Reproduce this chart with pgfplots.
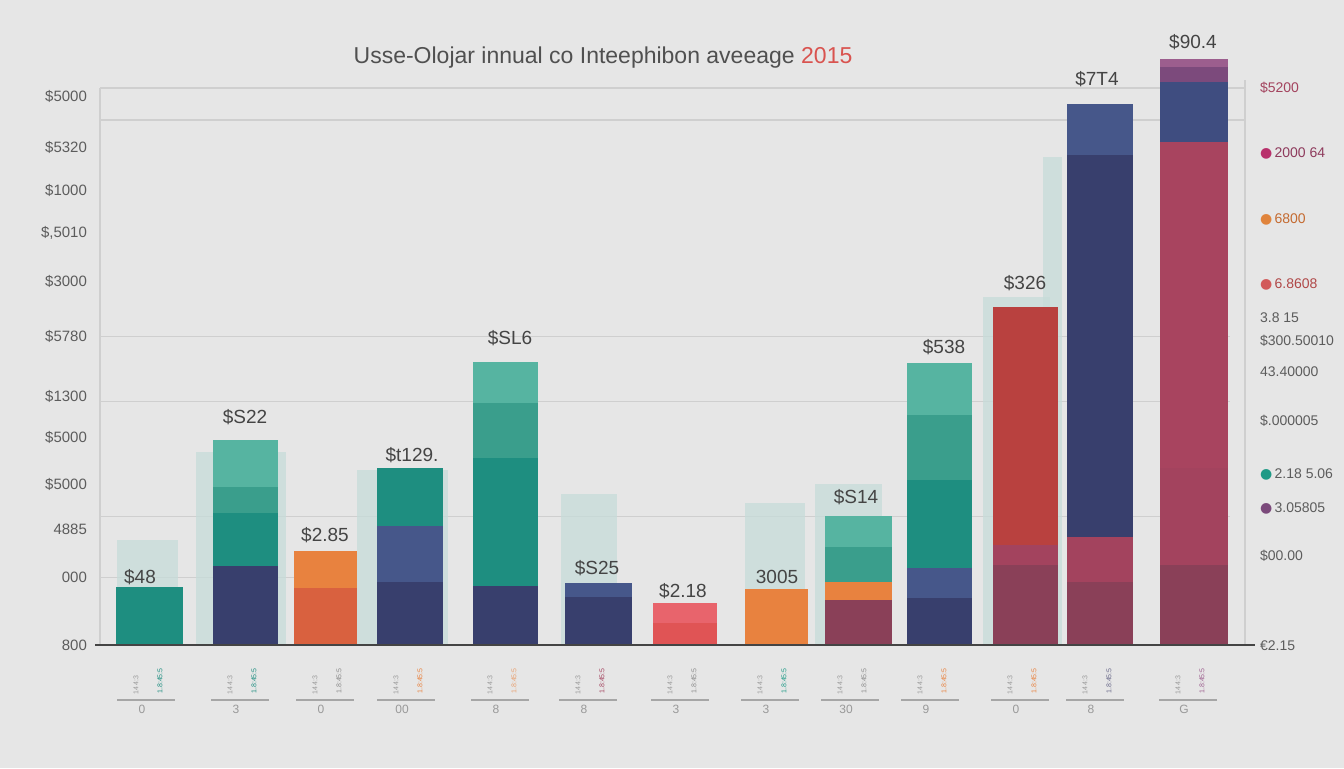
\documentclass[border=0pt]{standalone}
\usepackage{fontspec}
\setmainfont{Liberation Sans}
\newfontfamily\dejavu{DejaVu Sans}
\usepackage{pgfplots}
\pgfplotsset{compat=1.18}
\definecolor{bg}{HTML}{E6E6E6}
\definecolor{gridc}{HTML}{CFCFCF}
\definecolor{lab}{HTML}{444444}
\definecolor{tick}{HTML}{5C5C5C}
\definecolor{navy}{HTML}{383F6D}
\definecolor{blue}{HTML}{46578A}
\definecolor{tealD}{HTML}{1E8E80}
\definecolor{tealM}{HTML}{3A9E8C}
\definecolor{tealL}{HTML}{56B4A1}
\definecolor{orng}{HTML}{E8823F}
\definecolor{orngR}{HTML}{D9613F}
\definecolor{coral}{HTML}{E05455}
\definecolor{pinkR}{HTML}{E8646C}
\definecolor{maroon}{HTML}{8A4058}
\definecolor{maroonM}{HTML}{A3435E}
\definecolor{redB}{HTML}{B9413F}
\definecolor{magR}{HTML}{A8445F}
\definecolor{purp}{HTML}{7C4A7C}
\definecolor{purpP}{HTML}{9C5E8E}
\definecolor{navyB}{HTML}{3F4D80}
\definecolor{ghost}{HTML}{C6DCD9}
\definecolor{ttl}{HTML}{505050}
\definecolor{ttlred}{HTML}{D9534F}
\newcommand{\seg}[4]{\addplot[ybar, bar width=#3, bar shift=0pt, fill=#4, draw=none] coordinates {(#1,#2)};}
\newcommand{\ghostbar}[3]{\addplot[ybar, bar width=#2, bar shift=0pt, fill=ghost, draw=none, fill opacity=0.75] coordinates {(#1,#3)};}
\begin{document}
\begin{tikzpicture}[x=1pt,y=1pt]
\fill[bg] (0,0) rectangle (672,384);
\begin{axis}[
  at={(50pt,61.5pt)}, anchor=south west,
  scale only axis, width=572.5pt, height=307.5pt,
  xmin=100, xmax=1245, ymin=0, ymax=615,
  clip=false,
  axis line style={draw=none},
  major tick length=0pt,
  xtick=\empty,
  ytick={549,498,455,412,364,309,249,208,161,116,68,0},
  yticklabels={{\$5000},{\$5320},{\$1000},{\$,5010},{\$3000},{\$5780},{\$1300},{\$5000},{\$5000},{4885},{000},{800}},
  yticklabel style={font=\fontsize{7.5}{9}\selectfont, text=tick, anchor=east, xshift=-3pt},
]
% grid lines
\draw[gridc, line width=0.6pt] (axis cs:100,557) -- (axis cs:1245,557);
\draw[gridc, line width=0.6pt] (axis cs:100,525) -- (axis cs:1245,525);
\draw[gridc, line width=0.5pt] (axis cs:100,309) -- (axis cs:1230,309);
\draw[gridc, line width=0.5pt] (axis cs:100,244) -- (axis cs:1230,244);
\draw[gridc, line width=0.5pt] (axis cs:100,129) -- (axis cs:1230,129);
\draw[gridc, line width=0.5pt] (axis cs:100,68) -- (axis cs:300,68);
\draw[gridc, line width=0.6pt] (axis cs:100,557) -- (axis cs:100,0);
\draw[gridc, line width=0.6pt] (axis cs:1245,565) -- (axis cs:1245,0);
% ghost bars
\ghostbar{147.5}{61}{105}
\ghostbar{241}{90}{193}
\ghostbar{402}{91}{175}
\ghostbar{589}{56}{151}
\ghostbar{775}{60}{142}
\ghostbar{848}{67}{161}
\ghostbar{1016}{67}{348}
\ghostbar{1052}{19}{488}
% bar 1
\seg{149}{58}{67}{tealD}
% bar 2
\seg{245}{205}{65}{tealL}
\seg{245}{158}{65}{tealM}
\seg{245}{132}{65}{tealD}
\seg{245}{79}{65}{navy}
% bar 3
\seg{325}{94}{63}{orng}
\seg{325}{57}{63}{orngR}
% bar 4
\seg{410}{177}{66}{tealD}
\seg{410}{119}{66}{blue}
\seg{410}{63}{66}{navy}
% bar 5
\seg{505}{283}{65}{tealL}
\seg{505}{242}{65}{tealM}
\seg{505}{187}{65}{tealD}
\seg{505}{59}{65}{navy}
% bar 6
\seg{598}{62}{67}{blue}
\seg{598}{48}{67}{navy}
% bar 7
\seg{685}{42}{64}{pinkR}
\seg{685}{22}{64}{coral}
% bar 8
\seg{776}{56}{63}{orng}
% bar 9
\seg{858}{129}{67}{tealL}
\seg{858}{98}{67}{tealM}
\seg{858}{63}{67}{orng}
\seg{858}{45}{67}{maroon}
% bar 10
\seg{939}{282}{65}{tealL}
\seg{939}{230}{65}{tealM}
\seg{939}{165}{65}{tealD}
\seg{939}{77}{65}{blue}
\seg{939}{47}{65}{navy}
% bar 11
\seg{1025}{338}{65}{redB}
\seg{1025}{100}{65}{maroonM}
\seg{1025}{80}{65}{maroon}
% bar 12
\seg{1100}{541}{66}{blue}
\seg{1100}{490}{66}{navy}
\seg{1100}{253}{66}{navy}
\seg{1100}{108}{66}{maroonM}
\seg{1100}{63}{66}{maroon}
% bar 13
\seg{1194}{586}{68}{purpP}
\seg{1194}{578}{68}{purp}
\seg{1194}{563}{68}{navyB}
\seg{1194}{503}{68}{magR}
\seg{1194}{177}{68}{maroonM}
\seg{1194}{80}{68}{maroon}
% baseline
\draw[lab, line width=1pt] (axis cs:95,0) -- (axis cs:1255,0);
% value labels
\begin{scope}[every node/.style={font=\fontsize{9.5}{11}\selectfont, text=lab}]
\node at (axis cs:140,68) {\$48};
\node at (axis cs:245,228) {\$S22};
\node at (axis cs:325,110) {\$2.85};
\node at (axis cs:412,190) {\$t129.};
\node at (axis cs:510,307) {\$SL6};
\node at (axis cs:597,77) {\$S25};
\node at (axis cs:683,54) {\$2.18};
\node at (axis cs:777,68) {3005};
\node at (axis cs:856,148) {\$S14};
\node at (axis cs:944,298) {\$538};
\node at (axis cs:1025,362) {\$326};
\node at (axis cs:1097,566) {\$7T4};
\node at (axis cs:1193,603) {\$90.4};
\end{scope}
% title
\node[font=\fontsize{11.5}{14}\selectfont, text=ttl] at (axis cs:603,587) {Usse-Olojar innual co Inteephibon aveeage \textcolor{ttlred}{2015}};
% right labels
\begin{scope}[every node/.style={font=\fontsize{7}{8}\selectfont, text=tick, anchor=west}]
\node[text=maroonM] at (axis cs:1253,557) {\$5200};
\node at (axis cs:1253,492) {{\dejavu\textcolor[HTML]{B8306B}{●}}\,\textcolor[HTML]{8E3A5C}{2000 64}};
\node at (axis cs:1253,426) {{\dejavu\textcolor[HTML]{E0843C}{●}}\,\textcolor[HTML]{C46A30}{6800}};
\node at (axis cs:1253,361) {{\dejavu\textcolor[HTML]{D25A5A}{●}}\,\textcolor[HTML]{B04848}{6.8608}};
\node at (axis cs:1253,327) {3.8 15};
\node at (axis cs:1253,304) {\$300.50010};
\node at (axis cs:1253,273) {43.40000};
\node at (axis cs:1253,224) {\$.000005};
\node at (axis cs:1253,171) {{\dejavu\textcolor[HTML]{1E9A86}{●}}\,2.18 5.06};
\node at (axis cs:1253,137) {{\dejavu\textcolor[HTML]{7B4A7B}{●}}\,3.05805};
\node at (axis cs:1253,89) {\$00.00};
\node at (axis cs:1253,-1) {€2.15};
\end{scope}
\end{axis}
% bottom tick groups (decoration below the axis)
\foreach \xc/\d/\cc in {146/0/1E8E80, 240/3/1E8E80, 325/0/8A8A8A, 406/00/E8823F, 500/8/E8A070, 588/8/A3435E, 680/3/8A8A8A, 770/3/1E9A86, 850/30/8A8A8A, 930/9/E8823F, 1020/0/E8823F, 1095/8/6A6A8A, 1188/G/9C5E8E} {
  \definecolor{cc}{HTML}{\cc}
  \draw[gray!70, line width=0.7pt] ({50+(\xc-129)*0.5},34) -- ({50+(\xc-71)*0.5},34);
  \node[font=\fontsize{6}{7}\selectfont, text=gray!80] at ({50+(\xc-104)*0.5},29.5) {\d};
  \node[font=\fontsize{3.5}{4}\selectfont, text=gray!80, rotate=90] at ({50+(\xc-110)*0.5},41.5) {14\,4:3};
  \node[font=\fontsize{3.5}{4}\selectfont, text=cc, rotate=90] at ({50+(\xc-86)*0.5},43.5) {1.8:45:5};
}
\end{tikzpicture}
\end{document}
